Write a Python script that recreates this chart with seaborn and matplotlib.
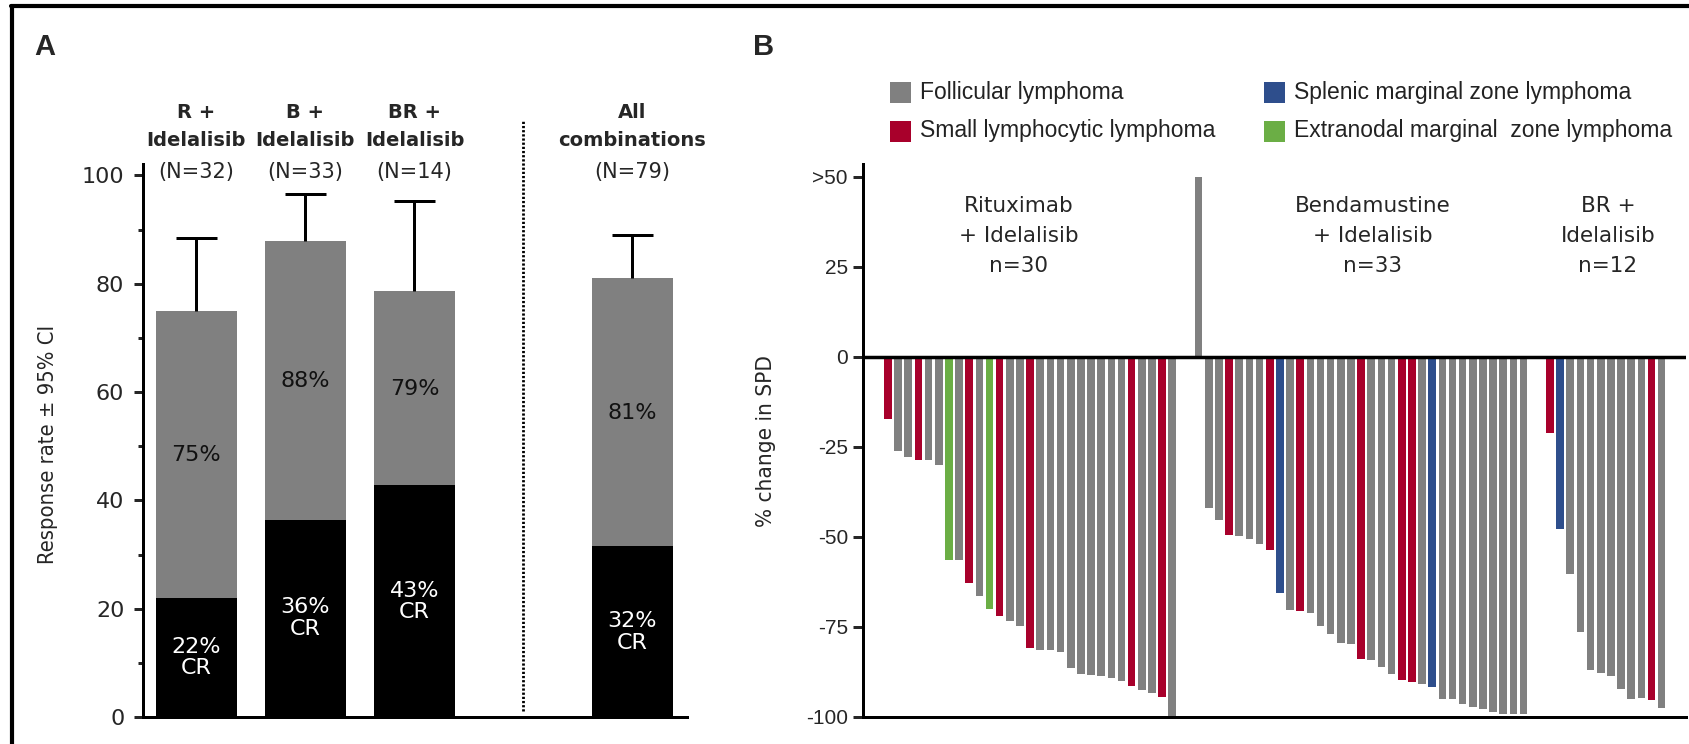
import numpy as np
import pandas as pd
import matplotlib
matplotlib.use("Agg")
import matplotlib.pyplot as plt
import seaborn as sns
from matplotlib import font_manager
from matplotlib.font_manager import FontProperties
from matplotlib.patches import Rectangle
from matplotlib.lines import Line2D
import matplotlib.transforms as mtransforms

# ---------------- Panel A data ----------------
a_line1 = ["R +", "B +", "BR +", "All"]
a_line2 = ["Idelalisib", "Idelalisib", "Idelalisib", "combinations"]
a_n = ["(N=32)", "(N=33)", "(N=14)", "(N=79)"]
a_orr = [75.0, 87.9, 78.6, 81.0]
a_cr = [21.9, 36.4, 42.9, 31.6]
a_ci_upper = [88.5, 96.6, 95.3, 89.0]

# ---------------- Panel B data ----------------
type_order = ["FL", "SLL", "SMZL", "EMZL"]
type_names = ["Follicular lymphoma", "Small lymphocytic lymphoma",
              "Splenic marginal zone lymphoma", "Extranodal marginal  zone lymphoma"]
group_title = ["Rituximab\n+ Idelalisib", "Bendamustine\n+ Idelalisib", "BR +\nIdelalisib"]
group_n = ["n=30", "n=33", "n=12"]

ri_values = [-17.1, -26.1, -27.8, -28.7, -28.7, -30.1, -56.5, -56.5, -62.7, -66.4,
             -70.0, -71.9, -73.3, -74.8, -80.7, -81.5, -81.5, -81.9, -86.3, -88.0,
             -88.2, -88.5, -89.2, -90.0, -91.5, -92.6, -93.2, -94.4, -100.0]
ri_types = ["SLL", "FL", "FL", "SLL", "FL", "FL", "EMZL", "FL", "SLL", "FL",
            "EMZL", "SLL", "FL", "FL", "SLL", "FL", "FL", "FL", "FL", "FL",
            "FL", "FL", "FL", "FL", "SLL", "FL", "FL", "SLL", "FL"]

be_values = [50.0, -41.9, -45.2, -49.5, -49.7, -50.6, -52.0, -53.5, -65.6, -70.4,
             -70.6, -71.1, -74.8, -77.0, -79.4, -79.6, -83.8, -84.3, -86.1, -88.0,
             -89.8, -90.3, -90.9, -91.7, -94.9, -95.1, -96.5, -97.2, -97.7, -98.6,
             -99.1, -99.1, -99.3]
be_types = ["FL", "FL", "FL", "SLL", "FL", "FL", "FL", "SLL", "SMZL", "FL",
            "SLL", "FL", "FL", "FL", "FL", "FL", "SLL", "FL", "FL", "FL",
            "SLL", "SLL", "FL", "SMZL", "FL", "FL", "FL", "FL", "FL", "FL",
            "FL", "FL", "FL"]

br_values = [-21.1, -47.9, -60.4, -76.4, -86.9, -87.8, -88.5, -92.3, -94.9, -94.7,
             -95.4, -97.5]
br_types = ["SLL", "SMZL", "FL", "FL", "FL", "FL", "FL", "FL", "FL", "FL",
            "SLL", "FL"]

b_ticks = [50, 25, 0, -25, -50, -75, -100]
b_ticklabels = [">50", "25", "0", "-25", "-50", "-75", "-100"]

# ---------------- styles ----------------
GRAY = "#808080"
palette = {"FL": "#808080", "SLL": "#A8002B", "SMZL": "#2E4E8C", "EMZL": "#6BAE45"}

sns.set_style("ticks")
plt.rcParams["font.family"] = ["DejaVu Sans"]
HELV = "Liberation Sans"


def find_condensed():
    """Look for an installed condensed/narrow regular sans face."""
    prefs = ["Liberation Sans Narrow", "Noto Sans", "DejaVu Sans", "Open Sans", "Roboto"]
    cands = []
    for f in font_manager.fontManager.ttflist:
        st = str(f.stretch).lower()
        cond = ("narrow" in f.name.lower() or "condensed" in f.name.lower()
                or st in ("condensed", "semi-condensed", "extra-condensed"))
        if not cond:
            continue
        if f.style != "normal":
            continue
        w = f.weight if isinstance(f.weight, int) else 400
        if w not in (400, "normal", "regular"):
            continue
        if "semi" in st or "extra" in st or "ultra" in st:
            continue
        for i, p in enumerate(prefs):
            if f.name.startswith(p):
                cands.append((i, f.fname))
                break
    if cands:
        cands.sort()
        return FontProperties(fname=cands[0][1])
    return FontProperties(family=HELV)


COND = find_condensed()

W, H = 1690, 744
fig = plt.figure(figsize=(W / 100, H / 100), dpi=100)
fig.patch.set_facecolor("white")


def fx(px):
    return px / W


def fy(px):
    return 1 - px / H


LW = 2.16  # ~3 px

# ---------------- Panel A ----------------
axA = fig.add_axes([fx(143), fy(717), fx(687) - fx(143), (717 - 164) / H])
a_pos = [0, 1, 2, 4]
dfA = pd.DataFrame({"pos": a_pos, "orr": a_orr, "cr": a_cr})
sns.barplot(data=dfA, x="pos", y="orr", native_scale=True, color=GRAY, saturation=1,
            width=0.75, errorbar=None, linewidth=0, orient="x", ax=axA)
sns.barplot(data=dfA, x="pos", y="cr", native_scale=True, color="black", saturation=1,
            width=0.75, errorbar=None, linewidth=0, orient="x", ax=axA)
axA.vlines(a_pos, a_orr, a_ci_upper, color="black", lw=LW, zorder=3)
axA.hlines(a_ci_upper, np.array(a_pos) - 0.19, np.array(a_pos) + 0.19, color="black",
           lw=LW, zorder=3)
axA.set_xlim(-0.49, 4.5)
axA.set_ylim(0, 102.1)
axA.set_yticks([0, 20, 40, 60, 80, 100])
axA.set_yticks([10, 30, 50, 70, 90], minor=True)
axA.tick_params(axis="y", which="major", length=6.5, width=LW, labelsize=16, pad=7,
                direction="out", left=True)
axA.tick_params(axis="y", which="minor", length=3.6, width=LW, direction="out", left=True)
axA.set_xticks([])
axA.set_xlabel("")
axA.set_ylabel("")
for s in ["top", "right"]:
    axA.spines[s].set_visible(False)
for s in ["left", "bottom"]:
    axA.spines[s].set_linewidth(LW)
    axA.spines[s].set_color("black")
# dotted separator
axA.plot([3, 3], [1.1, 110.2], color="black", lw=2.0, ls=(0, (0.8, 0.7)), clip_on=False)

orr_label_y = [48.4, 62.0, 60.5, 56.2]
cr_label_y = [11.0, 18.3, 21.3, 15.7]
for p, o, c, oy, cy in zip(a_pos, a_orr, a_cr, orr_label_y, cr_label_y):
    axA.text(p, oy, f"{o:.0f}%", ha="center", va="center", fontsize=16, color="#111111")
    axA.text(p, cy, f"{c:.0f}%\nCR", ha="center", va="center", fontsize=16, color="white",
             linespacing=1.1)

trA = mtransforms.blended_transform_factory(axA.transData, fig.transFigure)
for p, l1, l2, n in zip(a_pos, a_line1, a_line2, a_n):
    axA.text(p, fy(112.5), l1, transform=trA, ha="center", va="center", fontsize=14,
             fontweight="bold")
    axA.text(p, fy(141), l2, transform=trA, ha="center", va="center", fontsize=14,
             fontweight="bold")
    axA.text(p, fy(172), n, transform=trA, ha="center", va="center", fontsize=15)

ylabA = fig.text(fx(48), fy(444), "Response rate ± 95% CI", rotation=90, ha="center",
                 va="center", fontproperties=COND.copy())
fig.text(fx(45), fy(47), "A", ha="center", va="center", fontsize=21, fontweight="bold",
         family=HELV)

# ---------------- Panel B ----------------
axB = fig.add_axes([fx(863), fy(717), fx(1686) - fx(863), (717 - 164) / H])
GAP = 2.6
groups = [(ri_values, ri_types), (be_values, be_types), (br_values, br_types)]
positions, values, types = [], [], []
start = 0.0
for vals, tys in groups:
    pos = [start + i for i in range(len(vals))]
    positions += pos
    values += vals
    types += tys
    start = pos[-1] + GAP
dfB = pd.DataFrame({"pos": np.round(positions, 3), "change": values, "type": types})
sns.barplot(data=dfB, x="pos", y="change", hue="type", hue_order=type_order,
            palette=palette, native_scale=True, dodge=False, width=0.75, saturation=1,
            errorbar=None, linewidth=0, legend=False, orient="x", ax=axB)
axB.axhline(0, color="black", lw=2.5, zorder=4)
axB.set_xlim(-2.46, 78.6)
axB.set_ylim(-100, 53.6)
axB.set_yticks(b_ticks)
axB.set_yticklabels(b_ticklabels, family=HELV, fontsize=15)
axB.tick_params(axis="y", length=7.2, width=LW, pad=3.6, direction="out", left=True)
axB.set_xticks([])
axB.set_xlabel("")
axB.set_ylabel("")
for s in ["top", "right"]:
    axB.spines[s].set_visible(False)
for s in ["left", "bottom"]:
    axB.spines[s].set_linewidth(LW)
    axB.spines[s].set_color("black")

# group captions (figure pixel layout)
group_text_x = [1019, 1373, 1608]
for gx, t, n in zip(group_text_x, group_title, group_n):
    t1, t2 = t.split("\n")
    fig.text(fx(gx), fy(205.7), t1, ha="center", va="center", fontsize=15.5)
    fig.text(fx(gx), fy(235.7), t2, ha="center", va="center", fontsize=15.5)
    fig.text(fx(gx), fy(265.7), n, ha="center", va="center", fontsize=15.5)

ylabB = fig.text(fx(766), fy(441), "% change in SPD", rotation=90, ha="center",
                 va="center", fontproperties=COND.copy())
fig.text(fx(764), fy(47), "B", ha="center", va="center", fontsize=21, fontweight="bold",
         family=HELV)

# legend (manual, two columns)
leg_x = [890, 890, 1264, 1264]
leg_y = [92.5, 131, 92.5, 131]
for t, name, lx, ly in zip(type_order, type_names, leg_x, leg_y):
    fig.add_artist(Rectangle((fx(lx), fy(ly + 10.5)), 21 / W, 21 / H,
                             transform=fig.transFigure, color=palette[t], lw=0))
    fig.text(fx(lx + 30), fy(ly), name, ha="left", va="center", fontsize=16.5,
             family=HELV, color="#222222")

# frame (left and top border of the original figure)
fig.add_artist(Line2D([fx(12.5), fx(12.5)], [0, fy(6)], transform=fig.transFigure,
                      color="black", lw=3))
fig.add_artist(Line2D([fx(11), 1], [fy(6), fy(6)], transform=fig.transFigure,
                      color="black", lw=3))

# size the rotated axis titles to the lengths seen in the reference
renderer = fig.canvas.get_renderer()
for txt, target in [(ylabA, 240.0), (ylabB, 172.0)]:
    txt.set_fontsize(16)
    ext = txt.get_window_extent(renderer)
    txt.set_fontsize(16 * target / ext.height)

fig.savefig("out.png", dpi=100, facecolor="white")
